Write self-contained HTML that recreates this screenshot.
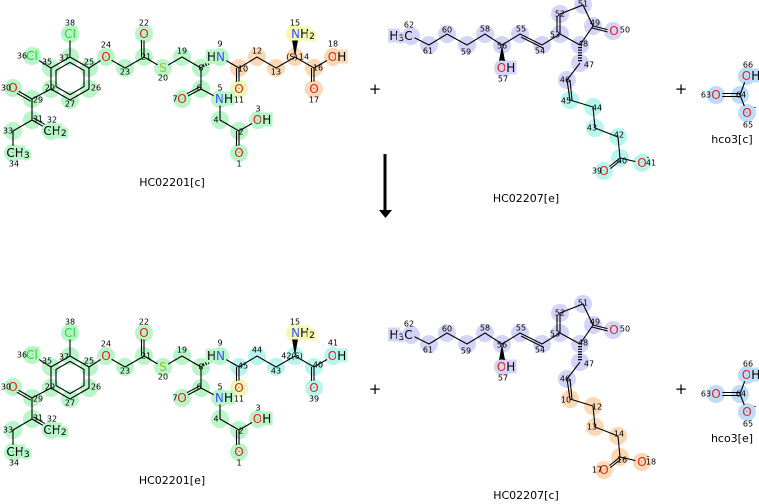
<!DOCTYPE html>
<html><head><meta charset="utf-8"><style>
html,body{margin:0;padding:0;background:#fff}
svg{display:block;font-family:"DejaVu Sans","Liberation Sans",sans-serif}
circle{r:9px}
.b{stroke:#000;stroke-width:1.1;fill:none}
.n{font-size:8px;text-anchor:middle;dominant-baseline:central;fill:#000}
.a{font-size:12px;text-anchor:middle;dominant-baseline:central;paint-order:stroke;stroke-width:5px}
.s{font-size:9px}
.O{fill:#e8221c}.N{fill:#3050f8}.S{fill:#a8c020}.Cl{fill:#20e020}.C{fill:#000}
.g{fill:#b8f5c8}.o{fill:#fcd8b4}.l{fill:#d4d4f8}.c{fill:#b8f5ee}.y{fill:#eaf8b8}.yy{fill:#f4f8b0}.bl{fill:#bcdcf8}
.lbl{font-size:11px;text-anchor:middle;fill:#000}
</style></head><body>
<svg width="759" height="504" viewBox="0 0 759 504" xmlns="http://www.w3.org/2000/svg">

<!-- ============ LEFT MOLECULE TOP ============ -->
<g>
<g>
<circle class="g" cx="70" cy="34" r="9"/><circle class="g" cx="32" cy="56" r="9"/>
<circle class="g" cx="70" cy="57" r="9"/><circle class="g" cx="89" cy="68" r="9"/><circle class="g" cx="89" cy="89" r="9"/>
<circle class="g" cx="70" cy="100" r="9"/><circle class="g" cx="51" cy="89" r="9"/><circle class="g" cx="51" cy="68" r="9"/>
<circle class="g" cx="32" cy="99" r="9"/><circle class="g" cx="13" cy="88" r="9"/><circle class="g" cx="32" cy="120" r="9"/>
<circle class="g" cx="51" cy="131" r="9"/><circle class="g" cx="13" cy="131" r="9"/><circle class="g" cx="13" cy="153" r="9"/>
<circle class="g" cx="106" cy="57" r="9"/><circle class="g" cx="125" cy="68" r="9"/><circle class="g" cx="144" cy="57" r="9"/>
<circle class="g" cx="144" cy="34" r="9"/><circle class="g" cx="163" cy="68" r="9"/><circle class="g" cx="182" cy="57" r="9"/>
<circle class="g" cx="201" cy="68" r="9"/><circle class="g" cx="220" cy="57" r="9"/>
<circle class="g" cx="201" cy="89" r="9"/><circle class="g" cx="182" cy="99" r="9"/><circle class="g" cx="220" cy="99" r="9"/>
<circle class="g" cx="220" cy="120" r="9"/><circle class="g" cx="239" cy="131" r="9"/><circle class="g" cx="258" cy="120" r="9"/><circle class="g" cx="239" cy="153" r="9"/>
<circle class="y" cx="239" cy="89" r="9"/><circle class="yy" cx="295" cy="34" r="9"/>
<circle class="o" cx="239" cy="68" r="9"/><circle class="o" cx="257" cy="57" r="9"/><circle class="o" cx="276" cy="68" r="9"/>
<circle class="o" cx="295" cy="57" r="9"/><circle class="o" cx="314" cy="68" r="9"/><circle class="o" cx="314" cy="89" r="9"/><circle class="o" cx="333" cy="57" r="9"/>
</g>
<g class="b">
<path d="M70 34L70 57L89 68L89 89L70 100L51 89L51 68L70 57M32 56L51 68M70 62.4L84 70.4L84 86.6L70 94.6L56 86.6L56 70.4Z"/>
<path d="M51 89L32 99L13 88M30.7 101.2L11.7 90.2M32 99L32 120L51 131M33.3 117.8L52.3 128.8M32 120L13 131L13 153"/>
<path d="M89 68L106 57L125 68L144 57L144 34M141.5 57L141.5 34M144 57L163 68L182 57L201 68L201 89L182 99M200 86.8L181 96.8M201 89L220 99L220 120L239 131L258 120M239 131L239 153M236.5 131L236.5 153"/>
<path d="M220 57L239 68L239 89M236.5 68L236.5 89M239 68L257 57L276 68L295 57L314 68L333 57M314 68L314 89M311.5 68L311.5 89"/>
<path d="M203 66L218 59" stroke-dasharray="1.2 1.5" stroke-width="3"/>
</g>
<path d="M295 57L292 40L298 40Z" fill="#000"/>
<text class="a Cl" x="70" y="34" stroke="#b8f5c8">Cl</text>
<text class="a Cl" x="32" y="56" stroke="#b8f5c8">Cl</text>
<text class="a O" x="13" y="88" stroke="#b8f5c8">O</text>
<text class="a C" x="55" y="131" stroke="#b8f5c8">CH<tspan class="s" dy="3">2</tspan></text>
<text class="a C" x="18" y="153" stroke="#b8f5c8">CH<tspan class="s" dy="3">3</tspan></text>
<text class="a O" x="106" y="57" stroke="#b8f5c8">O</text>
<text class="a O" x="144" y="34" stroke="#b8f5c8">O</text>
<text class="a S" x="163" y="68" stroke="#b8f5c8">S</text>
<text class="a N" x="216" y="57" stroke="#b8f5c8"><tspan fill="#000">H</tspan>N</text>
<text class="a O" x="182" y="99" stroke="#b8f5c8">O</text>
<text class="a N" x="224" y="99" stroke="#b8f5c8">N<tspan fill="#000">H</tspan></text>
<text class="a O" x="262" y="120" stroke="#b8f5c8">O<tspan fill="#000">H</tspan></text>
<text class="a O" x="239" y="153" stroke="#b8f5c8">O</text>
<text class="a O" x="239" y="89" stroke="#eaf8b8">O</text>
<text class="a N" x="303" y="34" stroke="#f4f8b0">N<tspan fill="#000">H</tspan><tspan class="s" fill="#000" dy="3">2</tspan></text>
<text class="a O" x="314" y="89" stroke="#fcd8b4">O</text>
<text class="a O" x="337" y="57" stroke="#fcd8b4">O<tspan fill="#000">H</tspan></text>
<g class="n">
<text x="70" y="23">38</text><text x="22" y="56">36</text><text x="64" y="58">37</text><text x="47" y="62">35</text>
<text x="89" y="62">25</text><text x="96" y="88">26</text><text x="70" y="104">27</text><text x="50" y="88">29</text>
<text x="6" y="88">30</text><text x="38" y="100">29</text><text x="38" y="119">31</text><text x="52" y="120">32</text>
<text x="8" y="131">33</text><text x="14" y="164">34</text><text x="106" y="45">24</text><text x="125" y="72">23</text>
<text x="146" y="57">21</text><text x="144" y="23">22</text><text x="163" y="78">20</text><text x="182" y="51">19</text>
<text x="201" y="68">8</text><text x="220" y="44">9</text><text x="175" y="99">7</text><text x="199" y="88">6</text>
<text x="220" y="88">5</text><text x="216" y="120">4</text><text x="258" y="109">3</text><text x="241" y="132">2</text><text x="239" y="164">1</text>
<text x="239" y="100">11</text>
<text x="243" y="69">10</text><text x="257" y="51">12</text><text x="276" y="72">13</text><text x="292" y="57">(S)</text><text x="304" y="57">14</text>
<text x="295" y="23">15</text><text x="318" y="68">16</text><text x="314" y="100">17</text><text x="333" y="44">18</text>
</g>
<text class="lbl" x="172" y="186">HC02201[c]</text>
</g>

<!-- ============ LEFT MOLECULE BOTTOM ============ -->
<g transform="translate(0,299)">
<g>
<circle class="g" cx="70" cy="34" r="9"/><circle class="g" cx="32" cy="56" r="9"/>
<circle class="g" cx="70" cy="57" r="9"/><circle class="g" cx="89" cy="68" r="9"/><circle class="g" cx="89" cy="89" r="9"/>
<circle class="g" cx="70" cy="100" r="9"/><circle class="g" cx="51" cy="89" r="9"/><circle class="g" cx="51" cy="68" r="9"/>
<circle class="g" cx="32" cy="99" r="9"/><circle class="g" cx="13" cy="88" r="9"/><circle class="g" cx="32" cy="120" r="9"/>
<circle class="g" cx="51" cy="131" r="9"/><circle class="g" cx="13" cy="131" r="9"/><circle class="g" cx="13" cy="153" r="9"/>
<circle class="g" cx="106" cy="57" r="9"/><circle class="g" cx="125" cy="68" r="9"/><circle class="g" cx="144" cy="57" r="9"/>
<circle class="g" cx="144" cy="34" r="9"/><circle class="g" cx="163" cy="68" r="9"/><circle class="g" cx="182" cy="57" r="9"/>
<circle class="g" cx="201" cy="68" r="9"/><circle class="g" cx="220" cy="57" r="9"/>
<circle class="g" cx="201" cy="89" r="9"/><circle class="g" cx="182" cy="99" r="9"/><circle class="g" cx="220" cy="99" r="9"/>
<circle class="g" cx="220" cy="120" r="9"/><circle class="g" cx="239" cy="131" r="9"/><circle class="g" cx="258" cy="120" r="9"/><circle class="g" cx="239" cy="153" r="9"/>
<circle class="y" cx="239" cy="89" r="9"/><circle class="yy" cx="295" cy="34" r="9"/>
<circle class="c" cx="239" cy="68" r="9"/><circle class="c" cx="257" cy="57" r="9"/><circle class="c" cx="276" cy="68" r="9"/>
<circle class="c" cx="295" cy="57" r="9"/><circle class="c" cx="314" cy="68" r="9"/><circle class="c" cx="314" cy="89" r="9"/><circle class="c" cx="333" cy="57" r="9"/>
</g>
<g class="b">
<path d="M70 34L70 57L89 68L89 89L70 100L51 89L51 68L70 57M32 56L51 68M70 62.4L84 70.4L84 86.6L70 94.6L56 86.6L56 70.4Z"/>
<path d="M51 89L32 99L13 88M30.7 101.2L11.7 90.2M32 99L32 120L51 131M33.3 117.8L52.3 128.8M32 120L13 131L13 153"/>
<path d="M89 68L106 57L125 68L144 57L144 34M141.5 57L141.5 34M144 57L163 68L182 57L201 68L201 89L182 99M200 86.8L181 96.8M201 89L220 99L220 120L239 131L258 120M239 131L239 153M236.5 131L236.5 153"/>
<path d="M220 57L239 68L239 89M236.5 68L236.5 89M239 68L257 57L276 68L295 57L314 68L333 57M314 68L314 89M311.5 68L311.5 89"/>
<path d="M203 66L218 59" stroke-dasharray="1.2 1.5" stroke-width="3"/>
</g>
<path d="M295 57L292 40L298 40Z" fill="#000"/>
<text class="a Cl" x="70" y="34" stroke="#b8f5c8">Cl</text>
<text class="a Cl" x="32" y="56" stroke="#b8f5c8">Cl</text>
<text class="a O" x="13" y="88" stroke="#b8f5c8">O</text>
<text class="a C" x="55" y="131" stroke="#b8f5c8">CH<tspan class="s" dy="3">2</tspan></text>
<text class="a C" x="18" y="153" stroke="#b8f5c8">CH<tspan class="s" dy="3">3</tspan></text>
<text class="a O" x="106" y="57" stroke="#b8f5c8">O</text>
<text class="a O" x="144" y="34" stroke="#b8f5c8">O</text>
<text class="a S" x="163" y="68" stroke="#b8f5c8">S</text>
<text class="a N" x="216" y="57" stroke="#b8f5c8"><tspan fill="#000">H</tspan>N</text>
<text class="a O" x="182" y="99" stroke="#b8f5c8">O</text>
<text class="a N" x="224" y="99" stroke="#b8f5c8">N<tspan fill="#000">H</tspan></text>
<text class="a O" x="262" y="120" stroke="#b8f5c8">O<tspan fill="#000">H</tspan></text>
<text class="a O" x="239" y="153" stroke="#b8f5c8">O</text>
<text class="a O" x="239" y="89" stroke="#eaf8b8">O</text>
<text class="a N" x="303" y="34" stroke="#f4f8b0">N<tspan fill="#000">H</tspan><tspan class="s" fill="#000" dy="3">2</tspan></text>
<text class="a O" x="314" y="89" stroke="#b8f5ee">O</text>
<text class="a O" x="337" y="57" stroke="#b8f5ee">O<tspan fill="#000">H</tspan></text>
<g class="n">
<text x="70" y="23">38</text><text x="22" y="56">36</text><text x="64" y="58">37</text><text x="47" y="62">35</text>
<text x="89" y="62">25</text><text x="96" y="88">26</text><text x="70" y="104">27</text><text x="50" y="88">29</text>
<text x="6" y="88">30</text><text x="38" y="100">29</text><text x="38" y="119">31</text><text x="52" y="120">32</text>
<text x="8" y="131">33</text><text x="14" y="164">34</text><text x="106" y="45">24</text><text x="125" y="72">23</text>
<text x="146" y="57">21</text><text x="144" y="23">22</text><text x="163" y="78">20</text><text x="182" y="51">19</text>
<text x="201" y="68">8</text><text x="220" y="44">9</text><text x="175" y="99">7</text><text x="199" y="88">6</text>
<text x="220" y="88">5</text><text x="216" y="120">4</text><text x="258" y="109">3</text><text x="241" y="132">2</text><text x="239" y="164">1</text>
<text x="239" y="100">11</text>
<text x="243" y="67">45</text><text x="257" y="51">44</text><text x="276" y="72">43</text><text x="292" y="57">42(S)</text>
<text x="295" y="23">15</text><text x="318" y="66">40</text><text x="314" y="100">39</text><text x="333" y="44">41</text>
</g>
<text class="lbl" x="172" y="185">HC02201[e]</text>
</g>

<!-- ============ RIGHT MOLECULE TOP ============ -->
<g>
<g class="l">
<circle cx="411" cy="36" r="9"/><circle cx="429" cy="45" r="9"/><circle cx="447" cy="34" r="9"/><circle cx="467" cy="45" r="9"/>
<circle cx="485" cy="34" r="9"/><circle cx="502" cy="45" r="9"/><circle cx="503" cy="68" r="9"/><circle cx="520" cy="34" r="9"/>
<circle cx="542" cy="45" r="9"/><circle cx="560" cy="34" r="9"/><circle cx="560" cy="14" r="9"/><circle cx="583" cy="5" r="9"/>
<circle cx="593" cy="26" r="9"/><circle cx="613" cy="31" r="9"/><circle cx="580" cy="45" r="9"/><circle cx="580" cy="63" r="9"/><circle cx="567" cy="80" r="9"/>
</g>
<g class="c">
<circle cx="570" cy="100" r="9"/><circle cx="593" cy="107" r="9"/><circle cx="595" cy="128" r="9"/><circle cx="618" cy="137" r="9"/>
<circle cx="620" cy="158" r="9"/><circle cx="604" cy="171" r="9"/><circle cx="642" cy="163" r="9"/>
</g>
<g class="b">
<path d="M411 36L429 45L447 34L467 45L485 34L502 45L520 34L542 45L560 34L560 14L583 5L593 26L580 45L560 34M543 48L521 37M557 32L557 16M593 26L613 31M592 28L612 33"/>
<path d="M580 63L567 80L570 100L593 107L595 128L618 137L620 158L604 171M621 160L605 173M620 158L642 163M570 80L572 100"/>
<path d="M580 47L580 62" stroke-dasharray="1.2 1.4" stroke-width="4"/>
</g>
<path d="M502 45L499 61L505 61Z" fill="#000"/>
<text class="a C" x="401" y="36" stroke="#d4d4f8">H<tspan class="s" dy="3">3</tspan><tspan dy="-3">C</tspan></text>
<text class="a O" x="506" y="68" stroke="#d4d4f8">O<tspan fill="#000">H</tspan></text>
<text class="a O" x="614" y="31" stroke="#d4d4f8">O</text>
<text class="a O" x="604" y="171" stroke="#b8f5ee">O</text>
<text class="a O" x="642" y="163" stroke="#b8f5ee">O</text>
<g class="n">
<text x="409" y="25">62</text><text x="428" y="51">61</text><text x="447" y="30">60</text><text x="466" y="52">59</text>
<text x="485" y="29">58</text><text x="502" y="46">56</text><text x="503" y="79">57</text><text x="521" y="29">55</text>
<text x="540" y="51">54</text><text x="555" y="35">53</text><text x="560" y="14">52</text><text x="583" y="4">51</text>
<text x="595" y="23">49</text><text x="625" y="30">50</text><text x="583" y="44">48</text><text x="589" y="65">47</text>
<text x="565" y="80">46</text><text x="566" y="101">45</text><text x="597" y="108">44</text><text x="592" y="128">43</text>
<text x="619" y="135">42</text><text x="622" y="161">40</text><text x="597" y="171">39</text><text x="651" y="163">41</text>
<text x="648" y="157">-</text>
</g>
<text class="lbl" x="526" y="202">HC02207[e]</text>
</g>

<!-- ============ RIGHT MOLECULE BOTTOM ============ -->
<g transform="translate(0,299)">
<g class="l">
<circle cx="411" cy="36" r="9"/><circle cx="429" cy="45" r="9"/><circle cx="447" cy="34" r="9"/><circle cx="467" cy="45" r="9"/>
<circle cx="485" cy="34" r="9"/><circle cx="502" cy="45" r="9"/><circle cx="503" cy="68" r="9"/><circle cx="520" cy="34" r="9"/>
<circle cx="542" cy="45" r="9"/><circle cx="560" cy="34" r="9"/><circle cx="560" cy="14" r="9"/><circle cx="583" cy="5" r="9"/>
<circle cx="593" cy="26" r="9"/><circle cx="613" cy="31" r="9"/><circle cx="580" cy="45" r="9"/><circle cx="580" cy="63" r="9"/><circle cx="567" cy="80" r="9"/>
</g>
<g class="o">
<circle cx="570" cy="100" r="9"/><circle cx="593" cy="107" r="9"/><circle cx="595" cy="128" r="9"/><circle cx="618" cy="137" r="9"/>
<circle cx="620" cy="158" r="9"/><circle cx="604" cy="171" r="9"/><circle cx="642" cy="163" r="9"/>
</g>
<g class="b">
<path d="M411 36L429 45L447 34L467 45L485 34L502 45L520 34L542 45L560 34L560 14L583 5L593 26L580 45L560 34M543 48L521 37M557 32L557 16M593 26L613 31M592 28L612 33"/>
<path d="M580 63L567 80L570 100L593 107L595 128L618 137L620 158L604 171M621 160L605 173M620 158L642 163M570 80L572 100"/>
<path d="M580 47L580 62" stroke-dasharray="1.2 1.4" stroke-width="4"/>
</g>
<path d="M502 45L499 61L505 61Z" fill="#000"/>
<text class="a C" x="401" y="36" stroke="#d4d4f8">H<tspan class="s" dy="3">3</tspan><tspan dy="-3">C</tspan></text>
<text class="a O" x="506" y="68" stroke="#d4d4f8">O<tspan fill="#000">H</tspan></text>
<text class="a O" x="614" y="31" stroke="#d4d4f8">O</text>
<text class="a O" x="604" y="171" stroke="#fcd8b4">O</text>
<text class="a O" x="642" y="163" stroke="#fcd8b4">O</text>
<g class="n">
<text x="409" y="25">62</text><text x="428" y="51">61</text><text x="447" y="30">60</text><text x="466" y="52">59</text>
<text x="485" y="29">58</text><text x="502" y="46">56</text><text x="503" y="79">57</text><text x="521" y="29">55</text>
<text x="540" y="51">54</text><text x="555" y="35">53</text><text x="560" y="14">52</text><text x="583" y="4">51</text>
<text x="595" y="23">49</text><text x="625" y="30">50</text><text x="583" y="44">48</text><text x="589" y="65">47</text>
<text x="565" y="80">46</text><text x="566" y="101">10</text><text x="597" y="108">12</text><text x="592" y="128">13</text>
<text x="619" y="135">14</text><text x="622" y="161">16</text><text x="597" y="171">17</text><text x="651" y="163">18</text>
<text x="648" y="157">-</text>
</g>
<text class="lbl" x="526" y="200">HC02207[c]</text>
</g>

<!-- ============ BICARBONATE ============ -->
<g>
<circle class="bl" cx="716" cy="95" r="9"/><circle class="bl" cx="740" cy="95" r="9"/>
<circle class="bl" cx="747" cy="76" r="9"/><circle class="bl" cx="747" cy="113" r="9"/>
<path class="b" d="M716 93.5L740 93.5M716 96.5L740 96.5M740 95L747 76M740 95L747 113"/>
<text class="a O" x="716" y="95" stroke="#bcdcf8">O</text>
<text class="a O" x="751" y="76" stroke="#bcdcf8">O<tspan fill="#000">H</tspan></text>
<text class="a O" x="747" y="113" stroke="#bcdcf8">O</text>
<g class="n"><text x="706" y="95">63</text><text x="741" y="95">64</text><text x="748" y="65">66</text><text x="748" y="125">65</text><text x="755" y="107">-</text></g>
<text class="lbl" x="732" y="143">hco3[c]</text>
</g>
<g transform="translate(0,299)">
<circle class="bl" cx="716" cy="95" r="9"/><circle class="bl" cx="740" cy="95" r="9"/>
<circle class="bl" cx="747" cy="76" r="9"/><circle class="bl" cx="747" cy="113" r="9"/>
<path class="b" d="M716 93.5L740 93.5M716 96.5L740 96.5M740 95L747 76M740 95L747 113"/>
<text class="a O" x="716" y="95" stroke="#bcdcf8">O</text>
<text class="a O" x="751" y="76" stroke="#bcdcf8">O<tspan fill="#000">H</tspan></text>
<text class="a O" x="747" y="113" stroke="#bcdcf8">O</text>
<g class="n"><text x="706" y="95">63</text><text x="741" y="95">64</text><text x="748" y="65">66</text><text x="748" y="125">65</text><text x="755" y="107">-</text></g>
<text class="lbl" x="732" y="143">hco3[e]</text>
</g>

<!-- plus signs -->
<g font-size="15" text-anchor="middle" dominant-baseline="central" fill="#000">
<text x="375" y="89">+</text><text x="681" y="89">+</text>
<text x="375" y="389">+</text><text x="681" y="389">+</text>
</g>

<!-- arrow -->
<rect x="383.5" y="154" width="3" height="57" fill="#000"/>
<path d="M379 210L392 210L385.5 218Z" fill="#000"/>
</svg>
</body></html>
